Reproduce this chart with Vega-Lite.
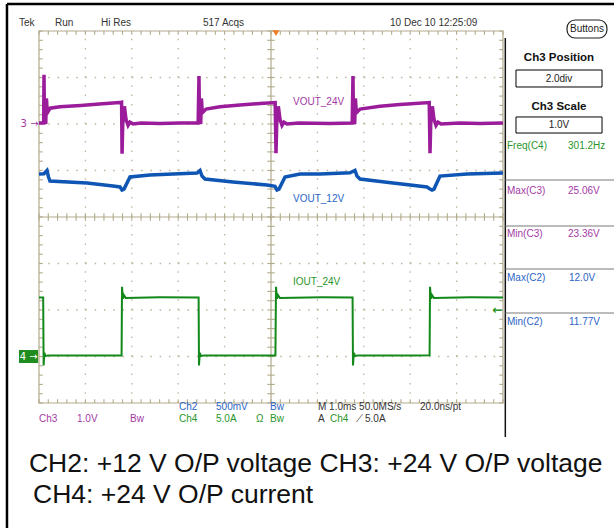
{
  "$schema": "https://vega.github.io/schema/vega-lite/v6.json",
  "width": 464,
  "height": 372,
  "autosize": {"type": "none"},
  "padding": {"left": 39, "top": 31, "right": 111, "bottom": 125},
  "background": "white",
  "config": {"view": {"stroke": null}, "text": {"font": "Liberation Sans"}},
  "datasets": {
    "xt": [{"v":0},{"v":0.2},{"v":0.4},{"v":0.6},{"v":0.8},{"v":1},{"v":1.2},{"v":1.4},{"v":1.6},{"v":1.8},{"v":2},{"v":2.2},{"v":2.4},{"v":2.6},{"v":2.8},{"v":3},{"v":3.2},{"v":3.4},{"v":3.6},{"v":3.8},{"v":4},{"v":4.2},{"v":4.4},{"v":4.6},{"v":4.8},{"v":5},{"v":5.2},{"v":5.4},{"v":5.6},{"v":5.8},{"v":6},{"v":6.2},{"v":6.4},{"v":6.6},{"v":6.8},{"v":7},{"v":7.2},{"v":7.4},{"v":7.6},{"v":7.8},{"v":8},{"v":8.2},{"v":8.4},{"v":8.6},{"v":8.8},{"v":9},{"v":9.2},{"v":9.4},{"v":9.6},{"v":9.8},{"v":10}],
    "yt": [{"v":-4},{"v":-3.8},{"v":-3.6},{"v":-3.4},{"v":-3.2},{"v":-3},{"v":-2.8},{"v":-2.6},{"v":-2.4},{"v":-2.2},{"v":-2},{"v":-1.8},{"v":-1.6},{"v":-1.4},{"v":-1.2},{"v":-1},{"v":-0.8},{"v":-0.6},{"v":-0.4},{"v":-0.2},{"v":0},{"v":0.2},{"v":0.4},{"v":0.6},{"v":0.8},{"v":1},{"v":1.2},{"v":1.4},{"v":1.6},{"v":1.8},{"v":2},{"v":2.2},{"v":2.4},{"v":2.6},{"v":2.8},{"v":3},{"v":3.2},{"v":3.4},{"v":3.6},{"v":3.8},{"v":4}],
    "xg": [{"v":1},{"v":2},{"v":3},{"v":4},{"v":6},{"v":7},{"v":8},{"v":9}],
    "yg": [{"v":-3},{"v":-2},{"v":-1},{"v":1},{"v":2},{"v":3}],
    "ch3": [
      {"time_ms":-5.1,"volts":24.02},{"time_ms":-5.0,"volts":24.02},{"time_ms":-4.992,"volts":25.06},{"time_ms":-4.982,"volts":24.1},{"time_ms":-4.955,"volts":24.0},{"time_ms":-4.94,"volts":24.55},{"time_ms":-4.92,"volts":24.24},{"time_ms":-4.86,"volts":24.34},{"time_ms":-4.65,"volts":24.37},{"time_ms":-4.2,"volts":24.4},{"time_ms":-3.8,"volts":24.43},{"time_ms":-3.36,"volts":24.46},{"time_ms":-3.32,"volts":24.47},
      {"time_ms":-3.31,"volts":23.36},{"time_ms":-3.295,"volts":24.0},{"time_ms":-3.26,"volts":24.38},{"time_ms":-3.225,"volts":24.1},{"time_ms":-3.18,"volts":23.97},{"time_ms":-3.14,"volts":24.04},{"time_ms":-3.07,"volts":24.0},{"time_ms":-2.9,"volts":24.02},{"time_ms":-2.5,"volts":24.01},{"time_ms":-2.06,"volts":24.02},{"time_ms":-1.67,"volts":24.02},
      {"time_ms":-1.652,"volts":25.03},{"time_ms":-1.642,"volts":24.1},{"time_ms":-1.615,"volts":24.0},{"time_ms":-1.6,"volts":24.55},{"time_ms":-1.58,"volts":24.24},{"time_ms":-1.5,"volts":24.32},{"time_ms":-1.2,"volts":24.37},{"time_ms":-0.77,"volts":24.41},{"time_ms":-0.34,"volts":24.44},{"time_ms":-0.01,"volts":24.46},
      {"time_ms":0.008,"volts":23.37},{"time_ms":0.023,"volts":24.0},{"time_ms":0.058,"volts":24.38},{"time_ms":0.094,"volts":24.1},{"time_ms":0.137,"volts":23.97},{"time_ms":0.18,"volts":24.04},{"time_ms":0.245,"volts":24.0},{"time_ms":0.5,"volts":24.02},{"time_ms":1.17,"volts":24.01},{"time_ms":1.65,"volts":24.02},
      {"time_ms":1.667,"volts":25.03},{"time_ms":1.677,"volts":24.1},{"time_ms":1.704,"volts":24.0},{"time_ms":1.719,"volts":24.55},{"time_ms":1.74,"volts":24.24},{"time_ms":1.82,"volts":24.32},{"time_ms":2.25,"volts":24.38},{"time_ms":2.68,"volts":24.42},{"time_ms":3.31,"volts":24.46},
      {"time_ms":3.327,"volts":23.37},{"time_ms":3.342,"volts":24.0},{"time_ms":3.377,"volts":24.38},{"time_ms":3.413,"volts":24.1},{"time_ms":3.456,"volts":23.97},{"time_ms":3.5,"volts":24.04},{"time_ms":3.564,"volts":24.0},{"time_ms":3.97,"volts":24.02},{"time_ms":4.4,"volts":24.01},{"time_ms":4.9,"volts":24.02}
    ],
    "ch2": [
      {"time_ms":-5.1,"volts":11.962},{"time_ms":-4.992,"volts":11.965},{"time_ms":-4.949,"volts":11.99},{"time_ms":-4.928,"volts":12.0},{"time_ms":-4.895,"volts":11.93},{"time_ms":-4.863,"volts":11.887},{"time_ms":-4.066,"volts":11.866},{"time_ms":-3.505,"volts":11.833},{"time_ms":-3.354,"volts":11.823},{"time_ms":-3.311,"volts":11.79},{"time_ms":-3.268,"volts":11.8},{"time_ms":-3.139,"volts":11.93},{"time_ms":-2.708,"volts":11.952},{"time_ms":-2.212,"volts":11.962},{"time_ms":-1.695,"volts":11.973},{"time_ms":-1.63,"volts":12.0},{"time_ms":-1.587,"volts":11.94},{"time_ms":-1.522,"volts":11.909},{"time_ms":-0.919,"volts":11.876},{"time_ms":-0.186,"volts":11.844},{"time_ms":-0.014,"volts":11.83},{"time_ms":0.029,"volts":11.79},{"time_ms":0.072,"volts":11.8},{"time_ms":0.202,"volts":11.93},{"time_ms":0.525,"volts":11.962},{"time_ms":0.956,"volts":11.962},{"time_ms":1.603,"volts":11.975},{"time_ms":1.71,"volts":12.0},{"time_ms":1.753,"volts":11.94},{"time_ms":1.818,"volts":11.909},{"time_ms":2.529,"volts":11.866},{"time_ms":3.262,"volts":11.823},{"time_ms":3.327,"volts":11.8},{"time_ms":3.37,"volts":11.79},{"time_ms":3.413,"volts":11.8},{"time_ms":3.542,"volts":11.94},{"time_ms":4.124,"volts":11.962},{"time_ms":4.9,"volts":11.973}
    ],
    "ch4": [
      {"time_ms":-5.1,"amps":6.34},{"time_ms":-5.01,"amps":6.34},{"time_ms":-5.0,"amps":-0.97},{"time_ms":-4.985,"amps":0.4},{"time_ms":-4.96,"amps":0.05},{"time_ms":-4.9,"amps":0.12},{"time_ms":-4.0,"amps":0.1},{"time_ms":-3.32,"amps":0.12},
      {"time_ms":-3.311,"amps":7.5},{"time_ms":-3.29,"amps":6.2},{"time_ms":-3.27,"amps":6.6},{"time_ms":-3.23,"amps":6.3},{"time_ms":-2.5,"amps":6.36},{"time_ms":-1.66,"amps":6.34},
      {"time_ms":-1.652,"amps":-0.97},{"time_ms":-1.635,"amps":0.4},{"time_ms":-1.61,"amps":0.05},{"time_ms":-1.55,"amps":0.12},{"time_ms":-0.5,"amps":0.1},{"time_ms":-0.005,"amps":0.12},
      {"time_ms":0.008,"amps":7.5},{"time_ms":0.029,"amps":6.2},{"time_ms":0.05,"amps":6.6},{"time_ms":0.09,"amps":6.3},{"time_ms":1.0,"amps":6.36},{"time_ms":1.658,"amps":6.34},
      {"time_ms":1.667,"amps":-0.97},{"time_ms":1.685,"amps":0.4},{"time_ms":1.71,"amps":0.05},{"time_ms":1.77,"amps":0.12},{"time_ms":3.0,"amps":0.1},{"time_ms":3.318,"amps":0.12},
      {"time_ms":3.327,"amps":7.5},{"time_ms":3.348,"amps":6.2},{"time_ms":3.37,"amps":6.6},{"time_ms":3.41,"amps":6.3},{"time_ms":4.2,"amps":6.36},{"time_ms":4.9,"amps":6.34}
    ],
    "labels": [
      {"gx":-0.431,"gy":4.172,"text":"Tek","ch":"none"},
      {"gx":0.345,"gy":4.172,"text":"Run","ch":"none"},
      {"gx":1.336,"gy":4.172,"text":"Hi Res","ch":"none"},
      {"gx":3.534,"gy":4.172,"text":"517 Acqs","ch":"none"},
      {"gx":7.565,"gy":4.172,"text":"10 Dec 10 12:25:09","ch":"none"},
      {"gx":3.017,"gy":-4.086,"text":"Ch2","ch":"Ch2"},
      {"gx":3.815,"gy":-4.086,"text":"500mV","ch":"Ch2"},
      {"gx":4.978,"gy":-4.086,"text":"Bw","ch":"Ch2"},
      {"gx":6.013,"gy":-4.086,"text":"M 1.0ms 50.0MS/s","ch":"none"},
      {"gx":8.211,"gy":-4.086,"text":"20.0ns/pt","ch":"none"},
      {"gx":0.0,"gy":-4.344,"text":"Ch3","ch":"Ch3"},
      {"gx":0.819,"gy":-4.344,"text":"1.0V","ch":"Ch3"},
      {"gx":1.961,"gy":-4.344,"text":"Bw","ch":"Ch3"},
      {"gx":3.017,"gy":-4.344,"text":"Ch4","ch":"Ch4"},
      {"gx":3.815,"gy":-4.344,"text":"5.0A","ch":"Ch4"},
      {"gx":4.677,"gy":-4.344,"text":"Ω","ch":"Ch4"},
      {"gx":4.978,"gy":-4.344,"text":"Bw","ch":"Ch4"},
      {"gx":6.013,"gy":-4.344,"text":"A","ch":"none"},
      {"gx":6.272,"gy":-4.344,"text":"Ch4","ch":"Ch4"},
      {"gx":6.832,"gy":-4.344,"text":"⟋","ch":"none"},
      {"gx":7.026,"gy":-4.344,"text":"5.0A","ch":"none"},
      {"gx":10.086,"gy":1.527,"text":"Freq(C4)","ch":"Ch4"},
      {"gx":11.401,"gy":1.527,"text":"301.2Hz","ch":"Ch4"},
      {"gx":10.086,"gy":0.559,"text":"Max(C3)","ch":"Ch3"},
      {"gx":11.401,"gy":0.559,"text":"25.06V","ch":"Ch3"},
      {"gx":10.086,"gy":-0.366,"text":"Min(C3)","ch":"Ch3"},
      {"gx":11.401,"gy":-0.366,"text":"23.36V","ch":"Ch3"},
      {"gx":10.086,"gy":-1.312,"text":"Max(C2)","ch":"Ch2"},
      {"gx":11.422,"gy":-1.312,"text":"12.0V","ch":"Ch2"},
      {"gx":10.086,"gy":-2.258,"text":"Min(C2)","ch":"Ch2"},
      {"gx":11.422,"gy":-2.258,"text":"11.77V","ch":"Ch2"},
      {"gx":5.474,"gy":2.473,"text":"VOUT_24V","ch":"Ch3"},
      {"gx":5.474,"gy":0.387,"text":"VOUT_12V","ch":"Ch2"},
      {"gx":5.474,"gy":-1.398,"text":"IOUT_24V","ch":"Ch4"}
    ]
  },
  "resolve": {"scale": {"x": "independent", "y": "independent", "color": "independent"}},
  "layer": [
    {
      "layer": [
        {
          "data": {"name": "xg"},
          "mark": {"type": "rule", "color": "#bdb49a", "strokeWidth": 1.3, "strokeDash": [1.5, 7.8]},
          "encoding": {
            "x": {"field": "v", "type": "quantitative", "scale": {"domain": [0, 10], "nice": false, "zero": false}, "axis": null},
            "y": {"datum": -4, "scale": {"domain": [-4, 4], "nice": false, "zero": false}, "axis": null},
            "y2": {"datum": 4}
          }
        },
        {
          "data": {"name": "yg"},
          "mark": {"type": "rule", "color": "#bdb49a", "strokeWidth": 1.3, "strokeDash": [1.5, 7.78]},
          "encoding": {
            "y": {"field": "v", "type": "quantitative", "scale": {"domain": [-4, 4], "nice": false, "zero": false}, "axis": null},
            "x": {"datum": 0, "scale": {"domain": [0, 10], "nice": false, "zero": false}, "axis": null},
            "x2": {"datum": 10}
          }
        },
        {
          "data": {"values": [{}]},
          "mark": {"type": "rect", "fillOpacity": 0, "stroke": "#b3a98b", "strokeWidth": 1.2},
          "encoding": {
            "x": {"datum": 0, "scale": {"domain": [0, 10], "nice": false, "zero": false}, "axis": null},
            "x2": {"datum": 10},
            "y": {"datum": -4, "scale": {"domain": [-4, 4], "nice": false, "zero": false}, "axis": null},
            "y2": {"datum": 4}
          }
        },
        {
          "data": {"values": [{}]},
          "mark": {"type": "rule", "color": "#b3a98b", "strokeWidth": 1.2},
          "encoding": {
            "x": {"datum": 5, "scale": {"domain": [0, 10], "nice": false, "zero": false}, "axis": null},
            "y": {"datum": -4, "scale": {"domain": [-4, 4], "nice": false, "zero": false}, "axis": null},
            "y2": {"datum": 4}
          }
        },
        {
          "data": {"values": [{}]},
          "mark": {"type": "rule", "color": "#b3a98b", "strokeWidth": 1.2},
          "encoding": {
            "y": {"datum": 0, "scale": {"domain": [-4, 4], "nice": false, "zero": false}, "axis": null},
            "x": {"datum": 0, "scale": {"domain": [0, 10], "nice": false, "zero": false}, "axis": null},
            "x2": {"datum": 10}
          }
        },
        {
          "data": {"name": "xt"},
          "mark": {"type": "rule", "color": "#b3a98b", "strokeWidth": 1.1},
          "encoding": {
            "x": {"field": "v", "type": "quantitative", "scale": {"domain": [0, 10], "nice": false, "zero": false}, "axis": null},
            "y": {"datum": -0.08, "scale": {"domain": [-4, 4], "nice": false, "zero": false}, "axis": null},
            "y2": {"datum": 0.08}
          }
        },
        {
          "data": {"name": "xt"},
          "mark": {"type": "rule", "color": "#b3a98b", "strokeWidth": 1.1},
          "encoding": {
            "x": {"field": "v", "type": "quantitative", "scale": {"domain": [0, 10], "nice": false, "zero": false}, "axis": null},
            "y": {"datum": 3.92, "scale": {"domain": [-4, 4], "nice": false, "zero": false}, "axis": null},
            "y2": {"datum": 4}
          }
        },
        {
          "data": {"name": "xt"},
          "mark": {"type": "rule", "color": "#b3a98b", "strokeWidth": 1.1},
          "encoding": {
            "x": {"field": "v", "type": "quantitative", "scale": {"domain": [0, 10], "nice": false, "zero": false}, "axis": null},
            "y": {"datum": -4, "scale": {"domain": [-4, 4], "nice": false, "zero": false}, "axis": null},
            "y2": {"datum": -3.92}
          }
        },
        {
          "data": {"name": "yt"},
          "mark": {"type": "rule", "color": "#b3a98b", "strokeWidth": 1.1},
          "encoding": {
            "y": {"field": "v", "type": "quantitative", "scale": {"domain": [-4, 4], "nice": false, "zero": false}, "axis": null},
            "x": {"datum": 4.92, "scale": {"domain": [0, 10], "nice": false, "zero": false}, "axis": null},
            "x2": {"datum": 5.08}
          }
        },
        {
          "data": {"name": "yt"},
          "mark": {"type": "rule", "color": "#b3a98b", "strokeWidth": 1.1},
          "encoding": {
            "y": {"field": "v", "type": "quantitative", "scale": {"domain": [-4, 4], "nice": false, "zero": false}, "axis": null},
            "x": {"datum": 0, "scale": {"domain": [0, 10], "nice": false, "zero": false}, "axis": null},
            "x2": {"datum": 0.08}
          }
        },
        {
          "data": {"name": "yt"},
          "mark": {"type": "rule", "color": "#b3a98b", "strokeWidth": 1.1},
          "encoding": {
            "y": {"field": "v", "type": "quantitative", "scale": {"domain": [-4, 4], "nice": false, "zero": false}, "axis": null},
            "x": {"datum": 9.92, "scale": {"domain": [0, 10], "nice": false, "zero": false}, "axis": null},
            "x2": {"datum": 10}
          }
        }
      ]
    },
    {
      "data": {"name": "ch3"},
      "mark": {"type": "line", "color": "#9b1c9b", "strokeWidth": 3.5},
      "encoding": {
        "x": {"field": "time_ms", "type": "quantitative", "scale": {"domain": [-5.1, 4.9], "nice": false, "zero": false}, "axis": null},
        "y": {"field": "volts", "type": "quantitative", "scale": {"domain": [18, 26], "nice": false, "zero": false}, "axis": null}
      }
    },
    {
      "data": {"name": "ch2"},
      "mark": {"type": "line", "color": "#0f56b4", "strokeWidth": 3.5},
      "encoding": {
        "x": {"field": "time_ms", "type": "quantitative", "scale": {"domain": [-5.1, 4.9], "nice": false, "zero": false}, "axis": null},
        "y": {"field": "volts", "type": "quantitative", "scale": {"domain": [9.5, 13.5], "nice": false, "zero": false}, "axis": null}
      }
    },
    {
      "data": {"name": "ch4"},
      "mark": {"type": "line", "color": "#12891a", "strokeWidth": 2},
      "encoding": {
        "x": {"field": "time_ms", "type": "quantitative", "scale": {"domain": [-5.1, 4.9], "nice": false, "zero": false}, "axis": null},
        "y": {"field": "amps", "type": "quantitative", "scale": {"domain": [-5, 35], "nice": false, "zero": false}, "axis": null}
      }
    },
    {
      "layer": [
        {
          "data": {"values": [{}]},
          "mark": {"type": "rule", "color": "black", "strokeWidth": 2.5},
          "encoding": {
            "x": {"datum": -0.69, "scale": {"domain": [0, 10], "nice": false, "zero": false}, "axis": null},
            "y": {"datum": 4.581, "scale": {"domain": [-4, 4], "nice": false, "zero": false}, "axis": null},
            "y2": {"datum": -6.7}
          }
        },
        {
          "data": {"values": [{}]},
          "mark": {"type": "rule", "color": "black", "strokeWidth": 2.5},
          "encoding": {
            "x": {"datum": -0.69, "scale": {"domain": [0, 10], "nice": false, "zero": false}, "axis": null},
            "x2": {"datum": 12.4},
            "y": {"datum": 4.581, "scale": {"domain": [-4, 4], "nice": false, "zero": false}, "axis": null}
          }
        },
        {
          "data": {"values": [{}]},
          "mark": {"type": "rule", "color": "#111111", "strokeWidth": 1.5},
          "encoding": {
            "x": {"datum": 10.05, "scale": {"domain": [0, 10], "nice": false, "zero": false}, "axis": null},
            "y": {"datum": 3.849, "scale": {"domain": [-4, 4], "nice": false, "zero": false}, "axis": null},
            "y2": {"datum": -4.731}
          }
        },
        {
          "data": {"values": [{"gy": 0.796}, {"gy": -0.194}, {"gy": -1.118}, {"gy": -2.065}]},
          "mark": {"type": "rule", "color": "#7a7a7a", "strokeWidth": 1.2},
          "encoding": {
            "y": {"field": "gy", "type": "quantitative", "scale": {"domain": [-4, 4], "nice": false, "zero": false}, "axis": null},
            "x": {"datum": 10.05, "scale": {"domain": [0, 10], "nice": false, "zero": false}, "axis": null},
            "x2": {"datum": 12.4}
          }
        },
        {
          "data": {"values": [{"x0": 10.28, "x1": 12.134, "y0": 3.161, "y1": 2.796}, {"x0": 10.28, "x1": 12.134, "y0": 2.151, "y1": 1.806}]},
          "mark": {"type": "rect", "fill": "white", "stroke": "black", "strokeWidth": 1},
          "encoding": {
            "x": {"field": "x0", "type": "quantitative", "scale": {"domain": [0, 10], "nice": false, "zero": false}, "axis": null},
            "x2": {"field": "x1"},
            "y": {"field": "y0", "type": "quantitative", "scale": {"domain": [-4, 4], "nice": false, "zero": false}, "axis": null},
            "y2": {"field": "y1"}
          }
        },
        {
          "data": {"values": [{}]},
          "mark": {"type": "rect", "fill": "white", "stroke": "#222222", "strokeWidth": 1.2, "cornerRadius": 8},
          "encoding": {
            "x": {"datum": 11.38, "scale": {"domain": [0, 10], "nice": false, "zero": false}, "axis": null},
            "x2": {"datum": 12.24},
            "y": {"datum": 4.237, "scale": {"domain": [-4, 4], "nice": false, "zero": false}, "axis": null},
            "y2": {"datum": 3.849}
          }
        },
        {
          "data": {"values": [{"gx": 11.81, "gy": 4.043, "text": "Buttons"}, {"gx": 11.207, "gy": 2.978, "text": "2.0div"}, {"gx": 11.207, "gy": 1.978, "text": "1.0V"}]},
          "mark": {"type": "text", "align": "center", "baseline": "middle", "fontSize": 10, "color": "#222222"},
          "encoding": {
            "x": {"field": "gx", "type": "quantitative", "scale": {"domain": [0, 10], "nice": false, "zero": false}, "axis": null},
            "y": {"field": "gy", "type": "quantitative", "scale": {"domain": [-4, 4], "nice": false, "zero": false}, "axis": null},
            "text": {"field": "text"}
          }
        },
        {
          "data": {"values": [{"gx": 11.207, "gy": 3.419, "text": "Ch3 Position"}, {"gx": 11.207, "gy": 2.366, "text": "Ch3 Scale"}]},
          "mark": {"type": "text", "align": "center", "baseline": "middle", "fontSize": 11.5, "fontWeight": "bold", "color": "#111111"},
          "encoding": {
            "x": {"field": "gx", "type": "quantitative", "scale": {"domain": [0, 10], "nice": false, "zero": false}, "axis": null},
            "y": {"field": "gy", "type": "quantitative", "scale": {"domain": [-4, 4], "nice": false, "zero": false}, "axis": null},
            "text": {"field": "text"}
          }
        },
        {
          "data": {"name": "labels"},
          "mark": {"type": "text", "align": "left", "baseline": "middle", "fontSize": 10},
          "encoding": {
            "x": {"field": "gx", "type": "quantitative", "scale": {"domain": [0, 10], "nice": false, "zero": false}, "axis": null},
            "y": {"field": "gy", "type": "quantitative", "scale": {"domain": [-4, 4], "nice": false, "zero": false}, "axis": null},
            "text": {"field": "text"},
            "color": {"field": "ch", "type": "nominal", "scale": {"domain": ["Ch2", "Ch3", "Ch4", "none"], "range": ["#2a64c6", "#a43aa4", "#2a962a", "#333333"]}, "legend": null}
          }
        },
        {
          "data": {"values": [{}]},
          "mark": {"type": "text", "text": "3 →", "align": "right", "baseline": "middle", "fontSize": 10, "font": "DejaVu Sans", "color": "#a43aa4"},
          "encoding": {
            "x": {"datum": -0.01, "scale": {"domain": [0, 10], "nice": false, "zero": false}, "axis": null},
            "y": {"datum": 2.0, "scale": {"domain": [-4, 4], "nice": false, "zero": false}, "axis": null}
          }
        },
        {
          "data": {"values": [{}]},
          "mark": {"type": "rect", "fill": "#1e8c1e"},
          "encoding": {
            "x": {"datum": -0.431, "scale": {"domain": [0, 10], "nice": false, "zero": false}, "axis": null},
            "x2": {"datum": -0.02},
            "y": {"datum": -2.86, "scale": {"domain": [-4, 4], "nice": false, "zero": false}, "axis": null},
            "y2": {"datum": -3.14}
          }
        },
        {
          "data": {"values": [{}]},
          "mark": {"type": "text", "text": "4 →", "align": "right", "baseline": "middle", "fontSize": 10, "font": "DejaVu Sans", "color": "white"},
          "encoding": {
            "x": {"datum": -0.03, "scale": {"domain": [0, 10], "nice": false, "zero": false}, "axis": null},
            "y": {"datum": -3.0, "scale": {"domain": [-4, 4], "nice": false, "zero": false}, "axis": null}
          }
        },
        {
          "data": {"values": [{}]},
          "mark": {"type": "text", "text": "←", "align": "right", "baseline": "middle", "fontSize": 12, "font": "DejaVu Sans", "fontWeight": "bold", "color": "#2a962a"},
          "encoding": {
            "x": {"datum": 9.99, "scale": {"domain": [0, 10], "nice": false, "zero": false}, "axis": null},
            "y": {"datum": -2.0, "scale": {"domain": [-4, 4], "nice": false, "zero": false}, "axis": null}
          }
        },
        {
          "data": {"values": [{}]},
          "mark": {"type": "point", "shape": "triangle-down", "filled": true, "size": 45, "color": "#f07c22", "opacity": 1},
          "encoding": {
            "x": {"datum": 5.108, "scale": {"domain": [0, 10], "nice": false, "zero": false}, "axis": null},
            "y": {"datum": 3.955, "scale": {"domain": [-4, 4], "nice": false, "zero": false}, "axis": null}
          }
        },
        {
          "data": {"values": [{"gx": -0.216, "gy": -5.484, "text": "CH2: +12 V O/P voltage CH3: +24 V O/P voltage"}, {"gx": -0.129, "gy": -6.151, "text": "CH4: +24 V O/P current"}]},
          "mark": {"type": "text", "align": "left", "baseline": "alphabetic", "fontSize": 26.5, "color": "#111111"},
          "encoding": {
            "x": {"field": "gx", "type": "quantitative", "scale": {"domain": [0, 10], "nice": false, "zero": false}, "axis": null},
            "y": {"field": "gy", "type": "quantitative", "scale": {"domain": [-4, 4], "nice": false, "zero": false}, "axis": null},
            "text": {"field": "text"}
          }
        }
      ]
    }
  ]
}
